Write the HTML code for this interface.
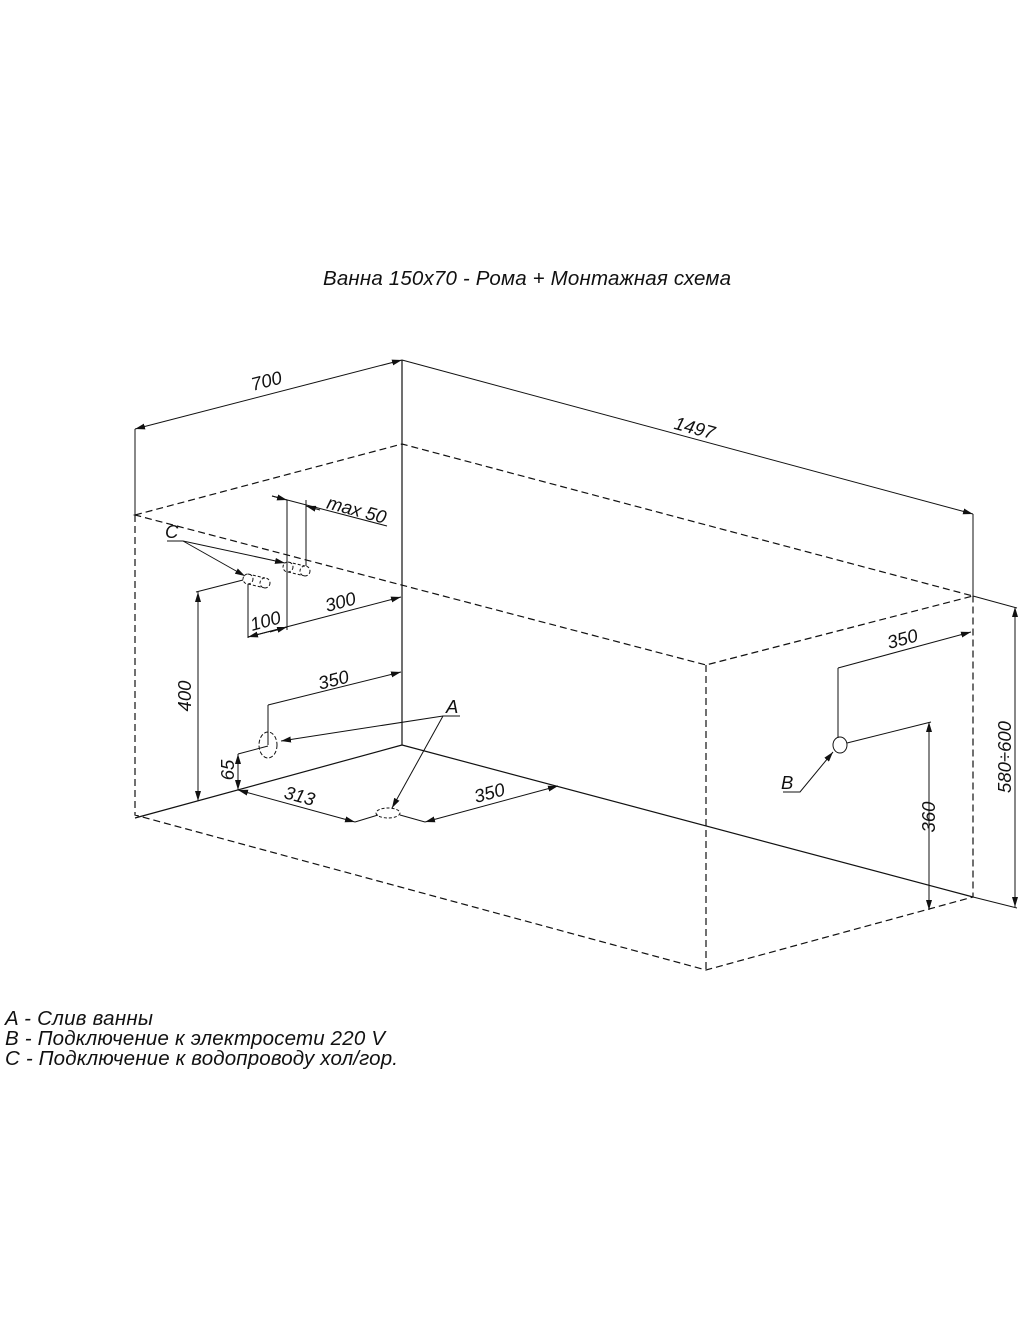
<!DOCTYPE html>
<html><head><meta charset="utf-8"><style>
html,body{margin:0;padding:0;background:#fff;width:1024px;height:1340px;overflow:hidden}
svg{display:block}
text{font-family:"Liberation Sans",sans-serif;font-style:italic;fill:#111}
</style></head><body>
<svg width="1024" height="1340" viewBox="0 0 1024 1340" xmlns="http://www.w3.org/2000/svg">
<defs>
<marker id="ar" viewBox="0 0 10 6" refX="10" refY="3" markerWidth="10" markerHeight="6" orient="auto-start-reverse" markerUnits="userSpaceOnUse"><path d="M0,0L10,3L0,6z" fill="#111"/></marker>
</defs>
<text x="527" y="285" font-size="20.5" text-anchor="middle" textLength="408">Ванна 150x70 - Рома + Монтажная схема</text>

<g stroke="#111" stroke-width="1.2" fill="none">
<g stroke-dasharray="7,4">
<path d="M135,515 L402,444 L973,596 L706,665 Z"/>
<path d="M135,515 L135,815 L706,970 L973,897 L973,596"/>
<path d="M706,665 L706,970"/>
</g>
<path d="M402,360 L402,745 L973,897 M402,745 L135,818"/>
<path d="M135,429 L135,515 M973,514 L973,596 M973,596 L1017,608 M973,897 L1017,908" stroke-width="1"/>
</g>

<g stroke="#111" stroke-width="1" fill="none">
<path d="M135,429 L402,360" marker-start="url(#ar)" marker-end="url(#ar)"/>
<path d="M402,360 L973,514" marker-end="url(#ar)"/>
<path d="M1015,607 L1015,907" marker-start="url(#ar)" marker-end="url(#ar)"/>
<path d="M838,668 L838,738"/>
<path d="M838,668 L971,632" marker-end="url(#ar)"/>
<ellipse cx="840" cy="745" rx="7" ry="8"/>
<path d="M847,743 L931,722"/>
<path d="M929,722 L929,910" marker-start="url(#ar)" marker-end="url(#ar)"/>
<path d="M783,792 L800,792 L833,752" marker-end="url(#ar)"/>
<path d="M167,541 L183,541"/>
<path d="M183,541 L245,576" marker-end="url(#ar)"/>
<path d="M183,541 L285,563" marker-end="url(#ar)"/>
<g stroke-dasharray="3,2">
<circle cx="248" cy="579" r="5"/><circle cx="265" cy="583" r="5"/>
<circle cx="288" cy="567" r="5"/><circle cx="305" cy="571" r="5"/>
<path d="M248,574 L265,578 M248,584 L265,588 M288,562 L305,566 M288,572 L305,576"/>
</g>
<path d="M287,500 L287,630 M306,500 L306,566"/>
<path d="M272,496 L387,526"/>
<path d="M272,496 L287,500" marker-end="url(#ar)"/>
<path d="M320,510 L306,506" marker-end="url(#ar)"/>
<path d="M248,584 L248,638"/>
<path d="M248,637 L401,597" marker-end="url(#ar)"/>
<path d="M287,627 L248,637" marker-end="url(#ar)"/>
<path d="M270,632 L287,627" marker-end="url(#ar)"/>
<path d="M196,592 L243,580"/>
<path d="M198,592 L198,801" marker-start="url(#ar)" marker-end="url(#ar)"/>
<path d="M268,705 L268,745"/>
<path d="M268,705 L401,672" marker-end="url(#ar)"/>
<ellipse cx="268" cy="745" rx="9" ry="13" stroke-dasharray="4,2"/>
<path d="M460,716 L443,716 L281,741" marker-end="url(#ar)"/>
<path d="M443,716 L392,808" marker-end="url(#ar)"/>
<path d="M238,754 L268,746"/>
<path d="M238,754 L238,790" marker-start="url(#ar)" marker-end="url(#ar)"/>
<path d="M238,790 L355,822" marker-start="url(#ar)" marker-end="url(#ar)"/>
<path d="M355,822 L378,815 M425,822 L400,815"/>
<path d="M425,822 L558,786" marker-start="url(#ar)" marker-end="url(#ar)"/>
<ellipse cx="388" cy="813" rx="12" ry="5" stroke-dasharray="3,2"/>
</g>

<g font-size="18.5">
<text x="268" y="387" transform="rotate(-14.5 268 387)" text-anchor="middle">700</text>
<text x="693" y="434" transform="rotate(15 693 434)" text-anchor="middle">1497</text>
<text x="1011" y="757" transform="rotate(-90 1011 757)" text-anchor="middle">580÷600</text>
<text x="904" y="645" transform="rotate(-15 904 645)" text-anchor="middle">350</text>
<text x="935" y="817" transform="rotate(-90 935 817)" text-anchor="middle">360</text>
<text x="781" y="789">B</text>
<text x="165" y="538">C</text>
<text x="355" y="516" transform="rotate(15 355 516)" text-anchor="middle">max  50</text>
<text x="267" y="627" transform="rotate(-15 267 627)" text-anchor="middle">100</text>
<text x="342" y="608" transform="rotate(-15 342 608)" text-anchor="middle">300</text>
<text x="191" y="696" transform="rotate(-90 191 696)" text-anchor="middle">400</text>
<text x="335" y="686" transform="rotate(-14 335 686)" text-anchor="middle">350</text>
<text x="446" y="713">A</text>
<text x="234" y="770" transform="rotate(-90 234 770)" text-anchor="middle">65</text>
<text x="298" y="802" transform="rotate(15 298 802)" text-anchor="middle">313</text>
<text x="491" y="799" transform="rotate(-15 491 799)" text-anchor="middle">350</text>
</g>

<g font-size="20.5">
<text x="5" y="1025" textLength="148">A - Слив ванны</text>
<text x="5" y="1045" textLength="380">B - Подключение к электросети 220 V</text>
<text x="5" y="1065" textLength="393">C - Подключение к водопроводу хол/гор.</text>
</g>
</svg>
</body></html>
